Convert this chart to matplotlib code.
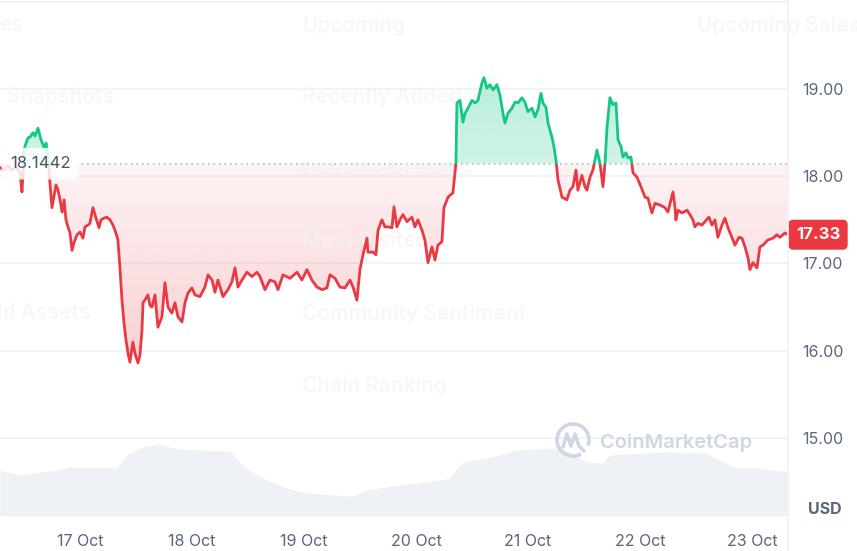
import numpy as np
import matplotlib.pyplot as plt
from matplotlib.path import Path
from matplotlib.patches import Rectangle, Arc
from matplotlib.lines import Line2D
from matplotlib.colors import to_rgb

plt.rcParams.update({
    "font.family": ["Inter", "DejaVu Sans"],
    "font.size": 11,
})

# --- DATA (day of October, price in USD) ---
days = np.array([
    16.286, 16.322, 16.357, 16.393, 16.429, 16.465, 16.482, 16.491, 16.500, 16.518,
    16.536, 16.554, 16.581, 16.598, 16.616, 16.625, 16.643, 16.652, 16.670, 16.688,
    16.697, 16.706, 16.715, 16.733, 16.750, 16.768, 16.786, 16.804, 16.822, 16.840,
    16.858, 16.875, 16.893, 16.911, 16.929, 16.947, 16.974, 17.000, 17.027, 17.045,
    17.071, 17.089, 17.116, 17.143, 17.170, 17.188, 17.214, 17.241, 17.268, 17.295,
    17.321, 17.339, 17.357, 17.375, 17.393, 17.411, 17.429, 17.446, 17.473, 17.491,
    17.518, 17.536, 17.554, 17.563, 17.580, 17.607, 17.625, 17.643, 17.670, 17.696,
    17.732, 17.759, 17.786, 17.821, 17.848, 17.875, 17.911, 17.938, 17.964, 18.000,
    18.027, 18.071, 18.116, 18.143, 18.179, 18.205, 18.232, 18.277, 18.321, 18.357,
    18.384, 18.411, 18.446, 18.491, 18.536, 18.580, 18.607, 18.652, 18.696, 18.741,
    18.768, 18.813, 18.875, 18.938, 18.982, 19.027, 19.071, 19.116, 19.161, 19.205,
    19.232, 19.277, 19.321, 19.366, 19.411, 19.438, 19.473, 19.500, 19.527, 19.563,
    19.571, 19.616, 19.643, 19.661, 19.696, 19.723, 19.750, 19.786, 19.804, 19.830,
    19.857, 19.884, 19.920, 19.964, 19.991, 20.018, 20.054, 20.080, 20.107, 20.143,
    20.170, 20.196, 20.232, 20.250, 20.286, 20.330, 20.357, 20.366, 20.393, 20.420,
    20.438, 20.464, 20.500, 20.527, 20.554, 20.589, 20.607, 20.634, 20.661, 20.688,
    20.723, 20.750, 20.777, 20.795, 20.821, 20.857, 20.884, 20.911, 20.946, 20.973,
    21.000, 21.036, 21.063, 21.089, 21.116, 21.134, 21.161, 21.179, 21.214, 21.232,
    21.250, 21.268, 21.304, 21.348, 21.375, 21.402, 21.429, 21.446, 21.482, 21.509,
    21.527, 21.554, 21.580, 21.616, 21.643, 21.670, 21.688, 21.706, 21.732, 21.759,
    21.786, 21.804, 21.831, 21.848, 21.875, 21.893, 21.920, 21.938, 21.973, 22.009,
    22.045, 22.071, 22.107, 22.134, 22.179, 22.223, 22.250, 22.295, 22.313, 22.321,
    22.339, 22.375, 22.420, 22.446, 22.473, 22.491, 22.518, 22.554, 22.580, 22.616,
    22.643, 22.670, 22.696, 22.732, 22.759, 22.786, 22.821, 22.848, 22.884, 22.911,
    22.938, 22.964, 22.982, 23.009, 23.045, 23.071, 23.098, 23.143, 23.188, 23.223,
    23.250, 23.295, 23.322,
])
price = np.array([
    18.10, 18.07, 18.12, 18.07, 18.10, 18.05, 17.82, 18.01, 18.30, 18.38,
    18.44, 18.45, 18.50, 18.46, 18.52, 18.55, 18.46, 18.42, 18.36, 18.30,
    18.38, 18.30, 18.19, 17.90, 17.64, 17.77, 17.90, 17.84, 17.73, 17.59,
    17.73, 17.50, 17.42, 17.35, 17.15, 17.24, 17.33, 17.36, 17.29, 17.42,
    17.44, 17.46, 17.64, 17.52, 17.41, 17.50, 17.52, 17.53, 17.50, 17.44,
    17.35, 17.27, 16.95, 16.58, 16.32, 16.12, 15.97, 15.87, 16.10, 15.97,
    15.86, 15.95, 16.24, 16.55, 16.58, 16.64, 16.52, 16.50, 16.64, 16.27,
    16.39, 16.78, 16.50, 16.43, 16.55, 16.39, 16.33, 16.55, 16.66, 16.72,
    16.64, 16.62, 16.73, 16.87, 16.81, 16.67, 16.81, 16.62, 16.70, 16.79,
    16.95, 16.73, 16.81, 16.90, 16.85, 16.90, 16.85, 16.70, 16.81, 16.79,
    16.70, 16.87, 16.83, 16.90, 16.81, 16.93, 16.81, 16.73, 16.70, 16.72,
    16.87, 16.83, 16.73, 16.72, 16.81, 16.73, 16.58, 16.93, 17.10, 17.29,
    17.13, 17.13, 17.10, 17.38, 17.50, 17.42, 17.42, 17.41, 17.65, 17.42,
    17.50, 17.56, 17.48, 17.53, 17.42, 17.50, 17.38, 17.27, 17.01, 17.19,
    17.04, 17.21, 17.25, 17.64, 17.76, 17.81, 18.15, 18.84, 18.87, 18.62,
    18.72, 18.78, 18.87, 18.84, 18.87, 19.07, 19.13, 19.01, 19.05, 18.99,
    19.05, 18.93, 18.72, 18.61, 18.72, 18.78, 18.85, 18.84, 18.90, 18.85,
    18.74, 18.78, 18.68, 18.76, 18.95, 18.84, 18.79, 18.61, 18.45, 18.34,
    18.19, 17.96, 17.76, 17.73, 17.84, 17.88, 18.07, 17.84, 18.01, 17.88,
    17.84, 17.99, 18.07, 18.30, 18.15, 17.88, 18.15, 18.56, 18.90, 18.82,
    18.84, 18.42, 18.34, 18.22, 18.27, 18.21, 18.22, 18.04, 17.99, 17.88,
    17.76, 17.75, 17.58, 17.69, 17.67, 17.64, 17.59, 17.82, 17.64, 17.50,
    17.61, 17.58, 17.61, 17.56, 17.50, 17.42, 17.46, 17.44, 17.48, 17.53,
    17.44, 17.50, 17.30, 17.44, 17.52, 17.41, 17.30, 17.21, 17.30, 17.29,
    17.19, 17.07, 16.93, 17.01, 16.95, 17.19, 17.21, 17.27, 17.29, 17.33,
    17.30, 17.35, 17.33,
])
base_price = 18.1442
last_price = 17.33

# trading volume (relative, millions)
vol_days = np.array([
    16.286, 16.465, 16.581, 16.795, 16.911, 17.330, 17.420, 17.536, 17.688, 17.893,
    18.071, 18.339, 18.429, 18.545, 18.670, 18.848, 19.027, 19.259, 19.438, 19.563,
    19.857, 20.098, 20.304, 20.366, 20.420, 20.598, 20.813, 20.902, 21.223, 21.375,
    21.527, 21.670, 21.732, 22.205, 22.598, 22.741, 22.866, 23.071, 23.161, 23.322,
])
volume = np.array([
    46, 41, 43, 46, 49, 48, 61, 68, 72, 67,
    66, 65, 53, 43, 36, 28, 23, 21, 20, 26,
    31, 34, 38, 48, 54, 57, 63, 66, 68, 64,
    54, 53, 61, 64, 63, 54, 48, 48, 46, 45,
])

tick_days = [17, 18, 19, 20, 21, 22, 23]
tick_labels = ["17 Oct", "18 Oct", "19 Oct", "20 Oct", "21 Oct", "22 Oct", "23 Oct"]
price_ticks = [15, 16, 17, 18, 19, 20]
price_labels = ["15.00", "16.00", "17.00", "18.00", "19.00", ""]

RED = "#ea3943"
GREEN = "#16c784"
GREY = "#58667e"
GRID = "#eff2f5"

W, H = 857, 551
fig = plt.figure(figsize=(W / 100, H / 100), dpi=100, facecolor="white")
ax = fig.add_axes([0, 1 - 516 / H, 788 / W, 516 / H])
axv = ax.twinx()
ax.set_zorder(axv.get_zorder() + 1)
ax.patch.set_visible(False)

# volume in background
axv.fill_between(vol_days, volume, 0, color="#eef1f5", lw=0)
axv.set_ylim(0, 516)
axv.set_yticks([])
for s in axv.spines.values():
    s.set_visible(False)


def gradient_fill(x, y, base, color, above, a_base, a_far):
    where = y >= base if above else y <= base
    poly = ax.fill_between(x, y, base, where=where, interpolate=True,
                           facecolor="none", edgecolor="none")
    clip = Path.make_compound_path(*poly.get_paths())
    lo, hi = (base, y.max()) if above else (y.min(), base)
    t = np.linspace(0, 1, 200)
    rgba = np.zeros((200, 1, 4))
    rgba[..., :3] = to_rgb(color)
    rgba[:, 0, 3] = a_base + (a_far - a_base) * t if above else a_far + (a_base - a_far) * t
    im = ax.imshow(rgba, extent=[x.min(), x.max(), lo, hi], origin="lower",
                   aspect="auto", zorder=1, interpolation="bilinear")
    im.set_clip_path(clip, ax.transData)


gradient_fill(days, price, base_price, RED, False, 0.06, 0.24)
gradient_fill(days, price, base_price, GREEN, True, 0.2, 0.3)

xmin, xmax = days.min(), days.max()
ymin, ymax = 14.106, 20.02

ln_r, = ax.plot(days, price, color=RED, lw=2.0, zorder=3, solid_joinstyle="round")
ln_r.set_clip_path(Rectangle((xmin, ymin), xmax - xmin, base_price - ymin, transform=ax.transData))
ln_g, = ax.plot(days, price, color=GREEN, lw=2.0, zorder=3, solid_joinstyle="round")
ln_g.set_clip_path(Rectangle((xmin, base_price), xmax - xmin, ymax - base_price, transform=ax.transData))

ax.axhline(base_price, xmin=0.096, xmax=1, color="#a6b0c3", lw=1.1,
           ls=(0, (1, 2.6)), zorder=2)

ax.set_xlim(xmin, xmax)
ax.set_ylim(ymin, ymax)
ax.set_yticks(price_ticks)
ax.set_yticklabels(price_labels)
ax.yaxis.tick_right()
ax.set_xticks(tick_days)
ax.set_xticklabels(tick_labels)
ax.tick_params(axis="y", length=0, pad=10, labelcolor=GREY, labelsize=11.5)
ax.tick_params(axis="x", length=0, pad=13, labelcolor=GREY, labelsize=11.5)
ax.grid(axis="y", color=GRID, lw=1.2)
ax.grid(axis="x", visible=False)
ax.set_axisbelow(True)
for s in ax.spines.values():
    s.set_visible(False)
fig.add_artist(Line2D([788 / W, 788 / W], [0, 1], color=GRID, lw=1.2))

# labels
ax.text(10 / 788, base_price, "18.1442", transform=ax.get_yaxis_transform(),
        ha="left", va="center", color="#4b5568", fontsize=12, zorder=5,
        bbox=dict(boxstyle="round,pad=0.5,rounding_size=0.4", fc="white",
                  ec="none", alpha=0.85))
ax.text(818 / 788, last_price, f"{last_price:.2f}", transform=ax.get_yaxis_transform(),
        ha="center", va="center", color="white", fontsize=12, fontweight="bold",
        zorder=5, clip_on=False,
        bbox=dict(boxstyle="round,pad=0.45,rounding_size=0.3", fc=RED, ec="none"))
fig.text(825 / W, 1 - 509 / H, "USD", ha="center", va="center", color=GREY,
         fontsize=11.5, fontweight="bold")

# faint page texts behind the chart
ghost = [("es", -1, 25), ("Upcoming", 302, 25), ("Upcoming Sales", 697, 25),
         ("l Snapshots", -4, 97), ("Recently Added", 302, 97),
         ("Gainers & Losers", 302, 170), ("Most Visited", 302, 241),
         ("ld Assets", -3, 313), ("Community Sentiment", 302, 313),
         ("Chain Ranking", 302, 385)]
for txt, gx, gy in ghost:
    ax.text(gx / W, 1 - gy / H, txt, transform=fig.transFigure, ha="left",
            va="center", fontsize=15, fontweight="semibold", color="#f1f2f4",
            alpha=0.6, zorder=2, clip_on=False)

# CoinMarketCap watermark
deco = fig.add_axes([0, 0, 1, 1], zorder=10)
deco.set_xlim(0, W)
deco.set_ylim(H, 0)
deco.axis("off")
deco.patch.set_visible(False)
WM = "#cfd6e4"
deco.add_patch(Arc((573, 440), 32, 32, theta1=60, theta2=380, color=WM, lw=2.6))
deco.plot([563, 567, 571, 575, 579, 584], [447, 434, 446, 434, 446, 451],
          color=WM, lw=2.6, solid_capstyle="round", solid_joinstyle="round")
deco.text(600, 443, "CoinMarketCap", ha="left", va="center", fontsize=14.5,
          fontweight="semibold", color=WM)

fig.savefig("out.png", dpi=100, facecolor="white")
